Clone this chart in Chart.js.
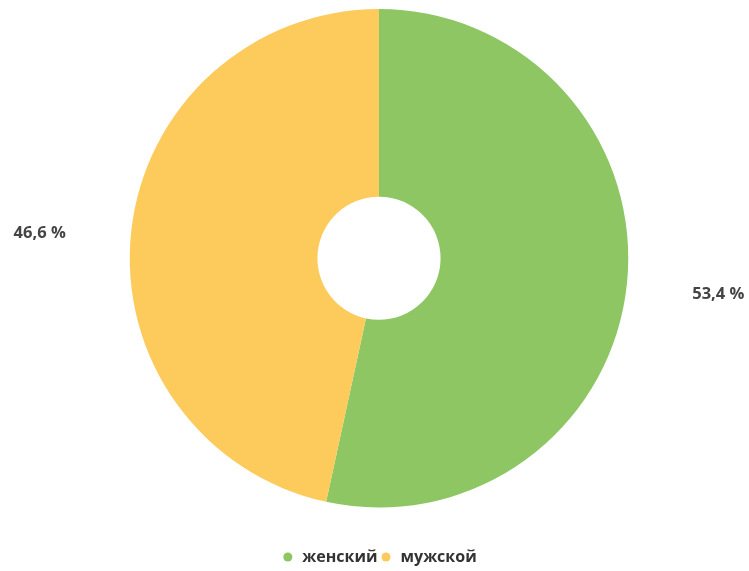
<!DOCTYPE html>
<html>
<head>
<meta charset="utf-8">
<script src="https://cdn.jsdelivr.net/npm/chart.js@4/dist/chart.umd.min.js"></script>
<style>
html,body{margin:0;padding:0;background:#fff;}
#wrap{width:749px;height:571px;}
</style>
</head>
<body>
<div id="wrap"><canvas id="c" width="749" height="571"></canvas></div>
<script>
const categories = ['женский', 'мужской'];
const values = [53.4, 46.6];
const valueLabels = ['53,4 %', '46,6 %'];
const colors = ['#8dc663', '#fdcb5b'];

const outsideLabels = {
  id: 'outsideLabels',
  afterDatasetsDraw(chart) {
    const ctx = chart.ctx;
    const meta = chart.getDatasetMeta(0);
    ctx.save();
    ctx.font = 'bold 16.5px "Open Sans", sans-serif';
    ctx.fillStyle = '#444444';
    ctx.textAlign = 'center';
    ctx.textBaseline = 'middle';
    meta.data.forEach((arc, i) => {
      const mid = (arc.startAngle + arc.endAngle) / 2;
      const r = arc.outerRadius + 92;
      const x = arc.x + Math.cos(mid) * r;
      const y = arc.y + Math.sin(mid) * r * 0.83 + 5.5;
      ctx.fillText(valueLabels[i], x, y);
    });
    ctx.restore();
  }
};

new Chart(document.getElementById('c'), {
  type: 'doughnut',
  data: {
    labels: categories,
    datasets: [{
      data: values,
      backgroundColor: colors,
      borderWidth: 0,
      hoverOffset: 0
    }]
  },
  options: {
    responsive: false,
    animation: false,
    cutout: '24.7%',
    layout: { padding: { top: 9, left: 9, right: 0, bottom: -4 } },
    plugins: {
      tooltip: { enabled: false },
      legend: {
        position: 'bottom',
        title: { display: true, text: '', font: { size: 10 }, padding: { top: 27.5, bottom: 0 } },
        labels: {
          usePointStyle: true,
          pointStyle: 'circle',
          boxWidth: 13,
          boxHeight: 6.4,
          padding: 2,
          color: '#333333',
          font: { family: '"Open Sans", sans-serif', size: 16, weight: 'bold' }
        }
      }
    }
  },
  plugins: [outsideLabels]
});
</script>
</body>
</html>
